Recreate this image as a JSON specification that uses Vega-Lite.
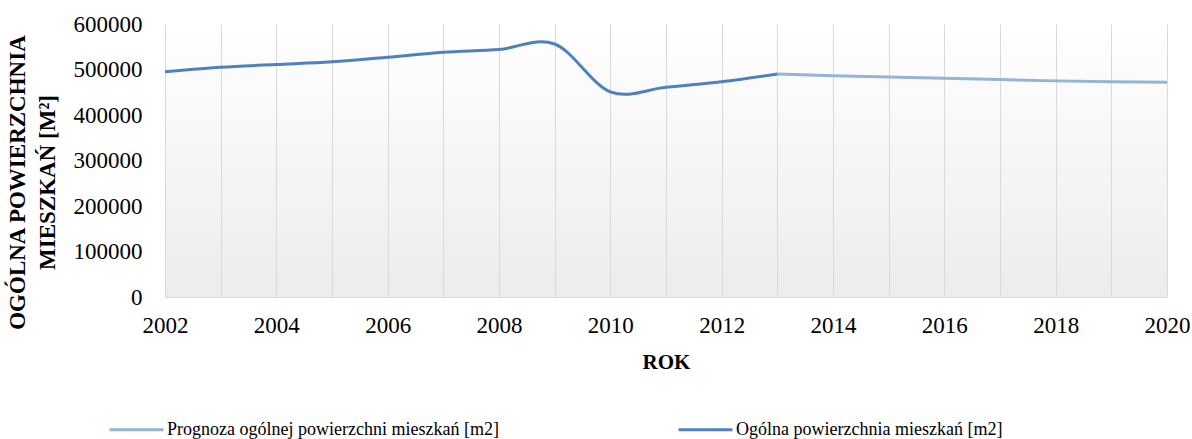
{
  "$schema": "https://vega.github.io/schema/vega-lite/v6.json",
  "width": 1002,
  "height": 273,
  "autosize": {"type": "none"},
  "padding": {"left": 165, "top": 24, "right": 25, "bottom": 142},
  "background": "#ffffff",
  "view": {
    "stroke": null,
    "fill": {"gradient": "linear", "x1": 0, "y1": 0, "x2": 0, "y2": 1,
      "stops": [{"offset": 0, "color": "#ffffff"}, {"offset": 1, "color": "#ececec"}]}
  },
  "config": {
    "font": "Liberation Serif",
    "axis": {"labelFont": "Liberation Serif", "titleFont": "Liberation Serif", "labelColor": "#000000", "titleColor": "#000000"}
  },
  "data": {
    "values": [
      {"rok": 2002, "wartosc": 495000, "seria": "Ogólna powierzchnia mieszkań [m2]"},
      {"rok": 2003, "wartosc": 505000, "seria": "Ogólna powierzchnia mieszkań [m2]"},
      {"rok": 2004, "wartosc": 511000, "seria": "Ogólna powierzchnia mieszkań [m2]"},
      {"rok": 2005, "wartosc": 517000, "seria": "Ogólna powierzchnia mieszkań [m2]"},
      {"rok": 2006, "wartosc": 527000, "seria": "Ogólna powierzchnia mieszkań [m2]"},
      {"rok": 2007, "wartosc": 538000, "seria": "Ogólna powierzchnia mieszkań [m2]"},
      {"rok": 2008, "wartosc": 544000, "seria": "Ogólna powierzchnia mieszkań [m2]"},
      {"rok": 2009, "wartosc": 556000, "seria": "Ogólna powierzchnia mieszkań [m2]"},
      {"rok": 2010, "wartosc": 451000, "seria": "Ogólna powierzchnia mieszkań [m2]"},
      {"rok": 2011, "wartosc": 461000, "seria": "Ogólna powierzchnia mieszkań [m2]"},
      {"rok": 2012, "wartosc": 473000, "seria": "Ogólna powierzchnia mieszkań [m2]"},
      {"rok": 2013, "wartosc": 490000, "seria": "Ogólna powierzchnia mieszkań [m2]"},
      {"rok": 2013, "wartosc": 490000, "seria": "Prognoza ogólnej powierzchni mieszkań [m2]"},
      {"rok": 2014, "wartosc": 486500, "seria": "Prognoza ogólnej powierzchni mieszkań [m2]"},
      {"rok": 2015, "wartosc": 483500, "seria": "Prognoza ogólnej powierzchni mieszkań [m2]"},
      {"rok": 2016, "wartosc": 481000, "seria": "Prognoza ogólnej powierzchni mieszkań [m2]"},
      {"rok": 2017, "wartosc": 478000, "seria": "Prognoza ogólnej powierzchni mieszkań [m2]"},
      {"rok": 2018, "wartosc": 475000, "seria": "Prognoza ogólnej powierzchni mieszkań [m2]"},
      {"rok": 2019, "wartosc": 473000, "seria": "Prognoza ogólnej powierzchni mieszkań [m2]"},
      {"rok": 2020, "wartosc": 472000, "seria": "Prognoza ogólnej powierzchni mieszkań [m2]"}
    ]
  },
  "encoding": {
    "x": {
      "field": "rok", "type": "quantitative",
      "scale": {"domain": [2002, 2020], "nice": false, "zero": false},
      "axis": {
        "title": "ROK",
        "titleFontSize": 21, "titleFontWeight": "bold",
        "titleBaseline": "top", "titleY": 54,
        "values": [2002,2003,2004,2005,2006,2007,2008,2009,2010,2011,2012,2013,2014,2015,2016,2017,2018,2019,2020],
        "format": "d",
        "labelExpr": "datum.value % 2 == 0 ? datum.label : ''",
        "labelFontSize": 23, "labelPadding": 17, "labelBaseline": "top",
        "labelFlush": false, "labelOverlap": false,
        "ticks": false, "tickSize": 0,
        "grid": true, "gridColor": "#d9d9d9", "gridWidth": 1,
        "domain": true, "domainColor": "#d9d9d9", "domainWidth": 1
      }
    },
    "y": {
      "field": "wartosc", "type": "quantitative",
      "scale": {"domain": [0, 600000], "nice": false},
      "axis": {
        "title": ["OGÓLNA POWIERZCHNIA", "MIESZKAŃ [M²]"],
        "titleFontSize": 23, "titleFontWeight": "bold", "titleLineHeight": 30,
        "titleAngle": -90, "titleAlign": "center", "titleBaseline": "top",
        "titleX": -159, "titleY": 158,
        "values": [0, 100000, 200000, 300000, 400000, 500000, 600000],
        "format": "d",
        "labelFontSize": 23, "labelPadding": 23,
        "ticks": false, "tickSize": 0,
        "grid": false, "domain": false
      }
    },
    "color": {
      "field": "seria", "type": "nominal",
      "scale": {
        "domain": ["Prognoza ogólnej powierzchni mieszkań [m2]", "Ogólna powierzchnia mieszkań [m2]"],
        "range": ["#95b3d7", "#4f81bd"]
      },
      "legend": {
        "title": null,
        "orient": "none", "direction": "horizontal",
        "legendX": -57, "legendY": 377,
        "symbolType": "stroke", "symbolSize": 2900, "symbolStrokeWidth": 3,
        "labelFont": "Liberation Serif", "labelColor": "#000000",
        "labelFontSize": 18, "labelLimit": 500, "labelOffset": 2,
        "columnPadding": 173
      }
    }
  },
  "layer": [
    {
      "transform": [{"filter": "datum.seria == 'Prognoza ogólnej powierzchni mieszkań [m2]'"}],
      "mark": {"type": "line", "strokeWidth": 3, "interpolate": "linear"}
    },
    {
      "transform": [{"filter": "datum.seria == 'Ogólna powierzchnia mieszkań [m2]'"}],
      "mark": {"type": "line", "strokeWidth": 3, "interpolate": "cardinal"}
    }
  ]
}
